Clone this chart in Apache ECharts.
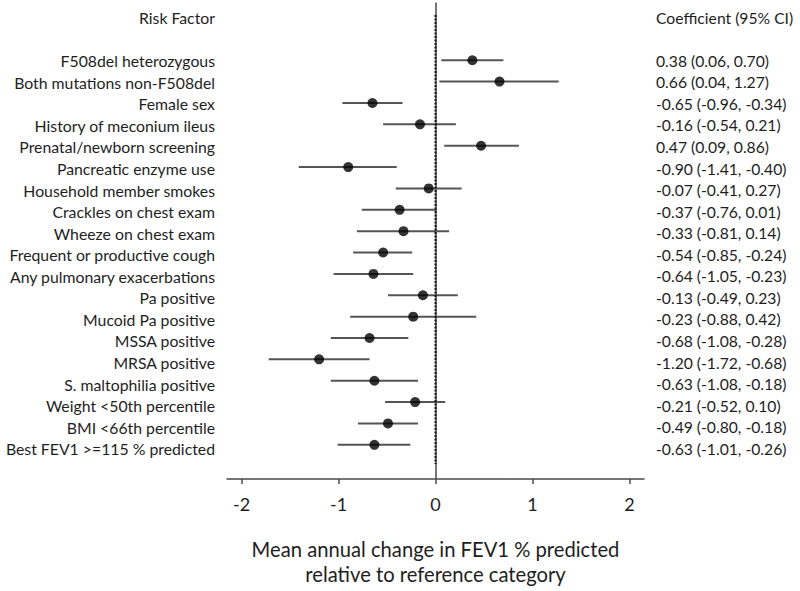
<!DOCTYPE html>
<html>
<head>
<meta charset="utf-8">
<script src="https://cdn.jsdelivr.net/npm/echarts@6/dist/echarts.min.js"></script>
<style>
  html, body { margin: 0; padding: 0; background: #fff; }
  #chart { width: 800px; height: 591px; }
</style>
</head>
<body>
<div id="chart"></div>
<script>
const factors = [
  'F508del heterozygous', 'Both mutations non-F508del', 'Female sex',
  'History of meconium ileus', 'Prenatal/newborn screening', 'Pancreatic enzyme use',
  'Household member smokes', 'Crackles on chest exam', 'Wheeze on chest exam',
  'Frequent or productive cough', 'Any pulmonary exacerbations', 'Pa positive',
  'Mucoid Pa positive', 'MSSA positive', 'MRSA positive', 'S. maltophilia positive',
  'Weight <50th percentile', 'BMI <66th percentile', 'Best FEV1 >=115 % predicted'
];
const coef  = [0.38, 0.66, -0.65, -0.16, 0.47, -0.90, -0.07, -0.37, -0.33, -0.54, -0.64, -0.13, -0.23, -0.68, -1.20, -0.63, -0.21, -0.49, -0.63];
const lower = [0.06, 0.04, -0.96, -0.54, 0.09, -1.41, -0.41, -0.76, -0.81, -0.85, -1.05, -0.49, -0.88, -1.08, -1.72, -1.08, -0.52, -0.80, -1.01];
const upper = [0.70, 1.27, -0.34, 0.21, 0.86, -0.40, 0.27, 0.01, 0.14, -0.24, -0.23, 0.23, 0.42, -0.28, -0.68, -0.18, 0.10, -0.18, -0.26];
const xTicks = [-2, -1, 0, 1, 2];
const leftHeader = 'Risk Factor';
const rightHeader = 'Coefficient (95% CI)';
const xTitle = 'Mean annual change in FEV1 % predicted\nrelative to reference category';

const fmt = v => v.toFixed(2);
const coefText = coef.map((c, i) => fmt(c) + ' (' + fmt(lower[i]) + ', ' + fmt(upper[i]) + ')');

const FONT = 'Lato';
const TXT = '#1e1e1e';
const AX = '#4a4a4a';

const chart = echarts.init(document.getElementById('chart'), null, { renderer: 'svg' });

const option = {
  animation: false,
  backgroundColor: '#fff',
  textStyle: { fontFamily: FONT },
  grid: [
    { left: 227, top: 3, width: 417, height: 480 },
    { left: 227, top: 6.9, width: 417, height: 452.6 }
  ],
  xAxis: [
    {
      gridIndex: 0, type: 'value', min: -2.15, max: 2.15,
      axisLine: { show: true, onZero: false, lineStyle: { color: AX, width: 1.5 } },
      axisTick: { show: true, length: 5, customValues: xTicks, lineStyle: { color: AX, width: 1.5 } },
      axisLabel: { customValues: xTicks, fontSize: 18, color: TXT, margin: 16, fontFamily: FONT },
      splitLine: { show: false },
      name: xTitle, nameLocation: 'middle', nameGap: 57,
      nameTextStyle: { fontSize: 20.2, color: TXT, lineHeight: 25, fontFamily: FONT }
    },
    { gridIndex: 1, type: 'value', show: false, min: 0, max: 1 }
  ],
  yAxis: [
    {
      gridIndex: 0, type: 'value', inverse: true, min: -2.68, max: 19.6,
      axisLine: { show: true, lineStyle: { color: AX, width: 1.5 } },
      axisTick: { show: false }, axisLabel: { show: false }, splitLine: { show: false }
    },
    {
      gridIndex: 1, type: 'category', inverse: true, position: 'left',
      data: [leftHeader, ''].concat(factors),
      axisLine: { show: false }, axisTick: { show: false },
      axisLabel: { fontSize: 15.8, color: TXT, margin: 12, fontFamily: FONT, interval: 0 }
    },
    {
      gridIndex: 1, type: 'category', inverse: true, position: 'right',
      data: [rightHeader, ''].concat(coefText),
      axisLine: { show: false }, axisTick: { show: false },
      axisLabel: { fontSize: 15.7, color: TXT, margin: 12, align: 'left', fontFamily: FONT, interval: 0 }
    }
  ],
  series: [
    {
      type: 'line', xAxisIndex: 0, yAxisIndex: 0,
      data: [[0, -2.12], [0, 18.9]],
      symbol: 'none', silent: true,
      lineStyle: { color: '#111', width: 2, type: [2, 1.5] }
    },
    {
      type: 'custom', xAxisIndex: 0, yAxisIndex: 0,
      data: coef.map((c, i) => [lower[i], upper[i], i]),
      renderItem: (params, api) => {
        const p1 = api.coord([api.value(0), api.value(2)]);
        const p2 = api.coord([api.value(1), api.value(2)]);
        return {
          type: 'line',
          shape: { x1: p1[0], y1: p1[1], x2: p2[0], y2: p2[1] },
          style: { stroke: '#555', lineWidth: 2 }
        };
      }
    },
    {
      type: 'scatter', xAxisIndex: 0, yAxisIndex: 0,
      data: coef.map((c, i) => [c, i]),
      symbol: 'circle', symbolSize: 10,
      itemStyle: { color: '#000' }
    }
  ]
};
chart.setOption(option);
</script>
</body>
</html>
